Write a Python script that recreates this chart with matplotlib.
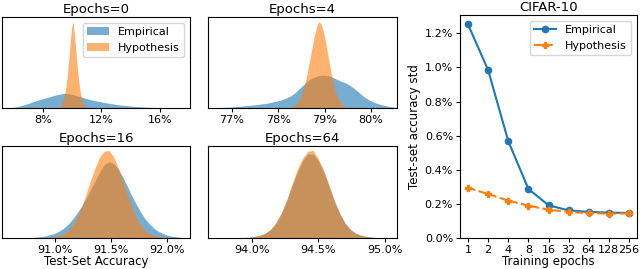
import numpy as np
import matplotlib.pyplot as plt
from matplotlib.ticker import PercentFormatter

# ---- histogram data (bin heights, arbitrary units) ----
# Epochs=0
e0_range = (5.4, 17.1)
e0_emp = [0.3, 0.6, 1.2, 2.5, 4, 5.5, 7.5, 9, 10.5, 12, 13.5, 15, 16, 17, 16.5,
          15.5, 14, 12.5, 11, 9.5, 8.5, 7.5, 6.5, 5.5, 4.8, 4, 3.3, 2.8, 2.3,
          1.9, 1.5, 1.2, 0.9, 0.7, 0.5, 0.4, 0.25, 0.15, 0.1]
e0_hyp_range = (9.0, 11.1)
e0_hyp = [0.5, 1.5, 3.5, 7, 13, 22, 35, 52, 72, 92, 100, 85, 65, 46, 30, 18, 10,
          5, 2.5, 1, 0.4]

# Epochs=4
e4_range = (76.6, 80.6)
e4_emp = [0.3, 0.5, 0.8, 1.1, 1.5, 1.9, 2.4, 2.9, 3.4, 4.0, 4.7, 5.4, 6.5, 7.8,
          9, 11, 13.5, 17, 22, 27, 32, 35, 37, 38, 37.5, 36, 33.5, 31, 29, 26,
          22, 17.5, 13, 9.5, 7, 5, 3.5, 2.2, 1.3, 0.7]
e4_hyp_range = (78.2, 79.5)
e4_hyp = [0.5, 1, 2, 4, 7, 12, 19, 28, 40, 54, 68, 82, 93, 100, 97, 88, 75, 60,
          45, 32, 21, 13, 7.5, 4, 2, 1]

# Epochs=16
e16_range = (90.74, 92.18)
e16_emp = [0.3, 0.6, 1.0, 1.6, 2.5, 3.8, 5.5, 8, 11.5, 16, 22, 29, 37, 46, 56,
           66, 76, 84, 87, 85, 79, 70, 60, 49, 39, 30, 22, 16, 11, 7.5, 5, 3.2,
           2.0, 1.2, 0.7, 0.3]
e16_hyp_range = (90.86, 92.06)
e16_hyp = [0.1, 0.5, 1, 1.8, 3, 5, 9, 15, 24, 36.5, 51, 67, 81, 93, 99, 100, 93,
           81, 67, 51, 36.5, 24, 15, 9, 5, 3, 1.8, 1, 0.5, 0.2]

# Epochs=64
e64_range = (93.84, 95.04)
e64_emp = [0.2, 0.3, 0.5, 1.0, 1.8, 3.2, 5.5, 9.8, 17, 28, 42, 59, 75, 88, 96,
           96, 88, 75, 59, 42, 28, 17, 9.8, 5.5, 3.2, 1.8, 1.0, 0.5, 0.3, 0.2]
e64_hyp = [0.1, 0.2, 0.4, 0.8, 1.5, 2.9, 5.2, 9.6, 17, 28.5, 43, 61, 78, 91, 99,
           100, 90, 77, 60, 42, 27.5, 16.5, 9.2, 5, 2.8, 1.5, 0.8, 0.4, 0.2, 0.1]

# ---- std vs training epochs (in %) ----
epochs = [1, 2, 4, 8, 16, 32, 64, 128, 256]
std_emp = [1.252, 0.984, 0.568, 0.288, 0.192, 0.162, 0.153, 0.149, 0.147]
std_hyp = [0.294, 0.258, 0.219, 0.190, 0.166, 0.153, 0.145, 0.143, 0.144]


def draw_hist(ax, rng, heights, color, label):
    # bin centres of an equal-width histogram over rng
    edges = np.linspace(rng[0], rng[1], len(heights) + 1)
    centers = (edges[:-1] + edges[1:]) / 2
    x = np.concatenate([[edges[0]], centers, [edges[-1]]])
    y = np.concatenate([[0], heights, [0]])
    ax.fill_between(x, 0, y, color=color, alpha=0.6, linewidth=0, label=label)


W, H = 640, 269
fig = plt.figure(figsize=(6.4, 2.69), dpi=100)


def px_axes(x0, y0, x1, y1):
    return fig.add_axes([x0 / W, 1 - y1 / H, (x1 - x0) / W, (y1 - y0) / H])


panels = [
    ("Epochs=0", (2, 17, 190, 108), e0_range, e0_emp, e0_hyp_range, e0_hyp,
     (5.2, 18.05), [8, 12, 16], "%d%%"),
    ("Epochs=4", (208, 17, 397, 108), e4_range, e4_emp, e4_hyp_range, e4_hyp,
     (76.49, 80.56), [77, 78, 79, 80], "%d%%"),
    ("Epochs=16", (2, 146, 190, 238), e16_range, e16_emp, e16_hyp_range, e16_hyp,
     (90.53, 92.2), [91.0, 91.5, 92.0], "%.1f%%"),
    ("Epochs=64", (208, 146, 397, 238), e64_range, e64_emp, e64_range, e64_hyp,
     (93.67, 95.09), [94.0, 94.5, 95.0], "%.1f%%"),
]

for i, (title, box, er, ev, hr, hv, xl, ticks, fmt) in enumerate(panels):
    ax = px_axes(*box)
    draw_hist(ax, er, ev, "C0", "Empirical")
    draw_hist(ax, hr, hv, "C1", "Hypothesis")
    ax.set_xlim(*xl)
    ax.set_ylim(0, max(max(ev), max(hv)) * 1.05)
    ax.set_xticks(ticks)
    ax.set_xticklabels([fmt % t for t in ticks], fontsize=8)
    ax.tick_params(axis="x", length=3, pad=2)
    ax.set_yticks([])
    ax.set_title(title, fontsize=9.5, pad=3)
    if i == 0:
        ax.legend(loc="upper right", fontsize=8)
    if i == 2:
        ax.set_xlabel("Test-Set Accuracy", fontsize=8.5, labelpad=0)

# ---- right panel ----
ax = px_axes(460, 15, 637, 238)
ax.plot(epochs, std_emp, "o-", color="C0", markersize=4.5, label="Empirical")
ax.plot(epochs, std_hyp, "P--", color="C1", markersize=5, label="Hypothesis")
ax.set_xscale("log", base=2)
ax.set_xticks(epochs)
ax.set_xticklabels([str(e) for e in epochs], fontsize=8)
ax.minorticks_off()
ax.set_ylim(bottom=0)
ax.set_yticks([0.0, 0.2, 0.4, 0.6, 0.8, 1.0, 1.2])
ax.yaxis.set_major_formatter(PercentFormatter(decimals=1))
ax.tick_params(axis="y", labelsize=8, length=3, pad=2)
ax.tick_params(axis="x", length=3, pad=2)
ax.set_title("CIFAR-10", fontsize=9.5, pad=3)
ax.set_xlabel("Training epochs", fontsize=8.5, labelpad=0)
ax.set_ylabel("Test-set accuracy std", fontsize=8.5, labelpad=3)
ax.legend(loc="upper right", fontsize=8)

fig.savefig("out.png", dpi=100)
